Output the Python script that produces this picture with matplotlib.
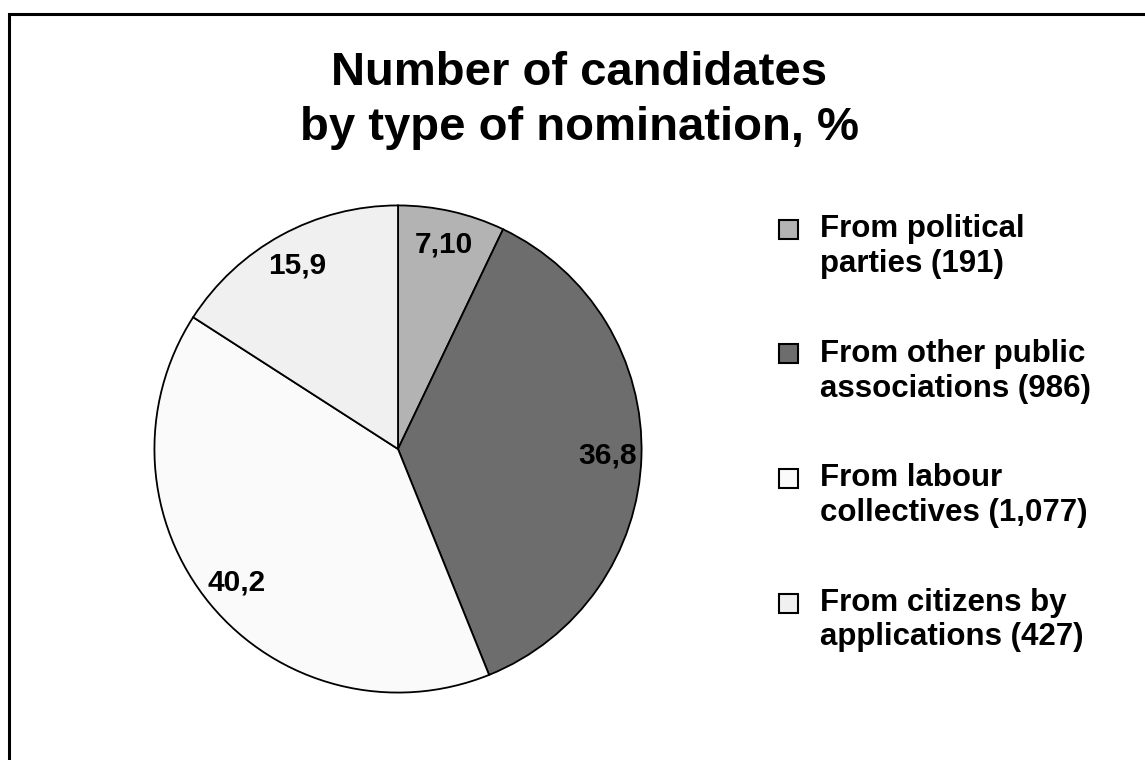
import numpy as np
import matplotlib
matplotlib.use("Agg")
from matplotlib import pyplot as plt
from matplotlib.patches import Rectangle

W, H = 1145, 760

title_lines = ["Number of candidates", "by type of nomination, %"]
categories = ["From political\nparties (191)",
              "From other public\nassociations (986)",
              "From labour\ncollectives (1,077)",
              "From citizens by\napplications (427)"]
shares = [7.10, 36.8, 40.2, 15.9]
share_labels = ["7,10", "36,8", "40,2", "15,9"]
colors = ["#b3b3b3", "#6d6d6d", "#fafafa", "#f0f0f0"]

plt.rcParams["font.family"] = ["Liberation Sans", "DejaVu Sans"]


def fx(x):
    return x / W


def fy(y):
    return 1 - y / H


fig = plt.figure(figsize=(W / 100, H / 100), dpi=100)
fig.patch.set_facecolor("white")

# outer frame, runs off the right and bottom edge
fig.patches.append(Rectangle((fx(8.5), fy(800)), 1200 / W, (800 - 13.5) / H,
                             transform=fig.transFigure, fill=False,
                             edgecolor="black", linewidth=2.2))

# title
for i, line in enumerate(title_lines):
    fig.text(fx(579), fy(85 + 55 * i), line, ha="center", va="baseline",
             fontsize=34, fontweight="bold")

# pie
ax = fig.add_axes([fx(152), fy(695), 492 / W, 492 / H])
wedges, _ = ax.pie(shares, colors=colors, startangle=90, counterclock=False,
                   radius=1, wedgeprops=dict(edgecolor="black", linewidth=1.3))
ax.set_xlim(-1.01, 1.01)
ax.set_ylim(-1.01, 1.01)
ax.axis("off")
for w, txt in zip(wedges, share_labels):
    mid = np.deg2rad((w.theta1 + w.theta2) / 2)
    r = 0.86
    ax.text(r * np.cos(mid), r * np.sin(mid), txt, ha="center", va="center",
            fontsize=21.5, fontweight="bold")

# legend drawn by hand
for i, (lab, col) in enumerate(zip(categories, colors)):
    base = 237 + 124.5 * i
    fig.patches.append(Rectangle((fx(779), fy(base + 2)), 19 / W, 19 / H,
                                 transform=fig.transFigure, facecolor=col,
                                 edgecolor="black", linewidth=1.5))
    for j, line in enumerate(lab.split("\n")):
        fig.text(fx(820), fy(base + 35 * j), line, ha="left", va="baseline",
                 fontsize=22.5, fontweight="bold")

fig.savefig("out.png", dpi=100)
